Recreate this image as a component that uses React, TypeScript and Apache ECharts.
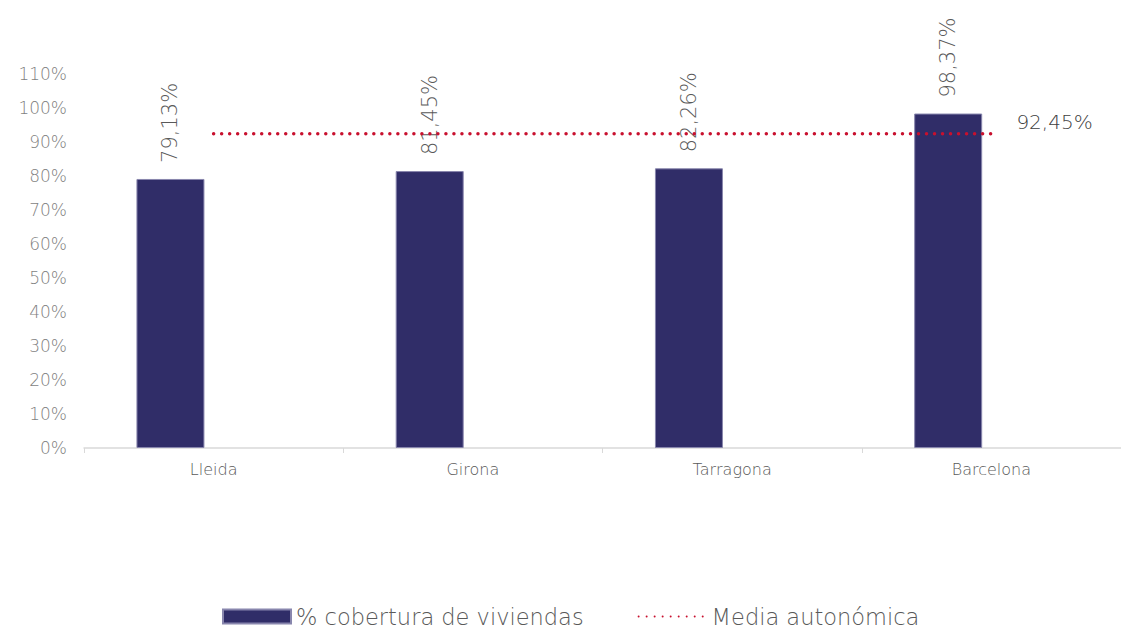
import React, { useEffect, useRef } from "react";
import * as echarts from "echarts";

const categories = ["Lleida", "Girona", "Tarragona", "Barcelona"];
const coverage = [79.13, 81.45, 82.26, 98.37];
const regionalAverage = [92.45, 92.45, 92.45, 92.45];
const yTicks = [0, 10, 20, 30, 40, 50, 60, 70, 80, 90, 100, 110];

const FONT = "DejaVu Sans";
const W = 200;
const fmt = (v: number) => v.toFixed(2).replace(".", ",") + "%";

export default function App() {
  const ref = useRef<HTMLDivElement>(null);
  useEffect(() => {
    if (!ref.current) return;
    const chart = echarts.init(ref.current, undefined, { renderer: "svg" });
    chart.setOption({
      animation: false,
      backgroundColor: "#ffffff",
      textStyle: { fontFamily: FONT, fontWeight: W },
      grid: { left: 84, width: 1044, top: 74, bottom: 180, containLabel: false },
      legend: {
        top: 600,
        left: 217,
        data: [
          { name: "% cobertura de viviendas", icon: "rect" },
          { name: "Media autonómica", itemStyle: { opacity: 0 } },
        ],
        itemWidth: 68,
        itemHeight: 14,
        itemGap: 54,
        textStyle: { fontFamily: FONT, fontWeight: W, fontSize: 22.5, color: "#595959" },
      },
      xAxis: {
        type: "category",
        data: categories,
        boundaryGap: true,
        axisLine: { lineStyle: { color: "#d9d9d9", width: 1.5 } },
        axisTick: { show: true, length: 5, lineStyle: { color: "#d9d9d9" } },
        axisLabel: { fontFamily: FONT, fontWeight: W, fontSize: 16, color: "#595959", margin: 13 },
      },
      yAxis: {
        type: "value",
        min: 0,
        max: yTicks[yTicks.length - 1],
        interval: 10,
        splitLine: { show: false },
        axisLine: { show: false },
        axisTick: { show: false },
        axisLabel: {
          fontFamily: FONT,
          fontWeight: W,
          fontSize: 17,
          color: "#7f7f7f",
          margin: 17,
          formatter: (v: number) => v + "%",
        },
      },
      series: [
        {
          name: "% cobertura de viviendas",
          type: "bar",
          data: coverage,
          barWidth: 68,
          barGap: "27%",
          itemStyle: { color: "#302d68", borderColor: "#8886ad", borderWidth: 1 },
          label: {
            show: true,
            position: "top",
            distance: 16,
            rotate: 90,
            align: "left",
            verticalAlign: "middle",
            fontFamily: FONT,
            fontWeight: W,
            fontSize: 21,
            color: "#595959",
            formatter: (p: any) => fmt(p.value),
          },
        },
        {
          name: "_spacer",
          type: "bar",
          data: categories.map(() => "-"),
          barWidth: 68,
          silent: true,
        },
        {
          name: "Media autonómica",
          type: "line",
          data: regionalAverage,
          symbol: "none",
          lineStyle: { color: "#c8102e", width: 3.5, type: [0.01, 8], cap: "round" },
          itemStyle: { color: "#c8102e" },
          label: { show: false },
          endLabel: {
            show: true,
            distance: 25,
            offset: [0, -12],
            fontFamily: FONT,
            fontWeight: W,
            fontSize: 20,
            color: "#404040",
            formatter: (p: any) => fmt(p.value),
          },
        },
      ],
    });
    return () => chart.dispose();
  }, []);
  return (
    <div
      ref={ref}
      style={{ position: "fixed", left: 0, top: 0, width: 1121, height: 628, background: "#fff" }}
    />
  );
}
